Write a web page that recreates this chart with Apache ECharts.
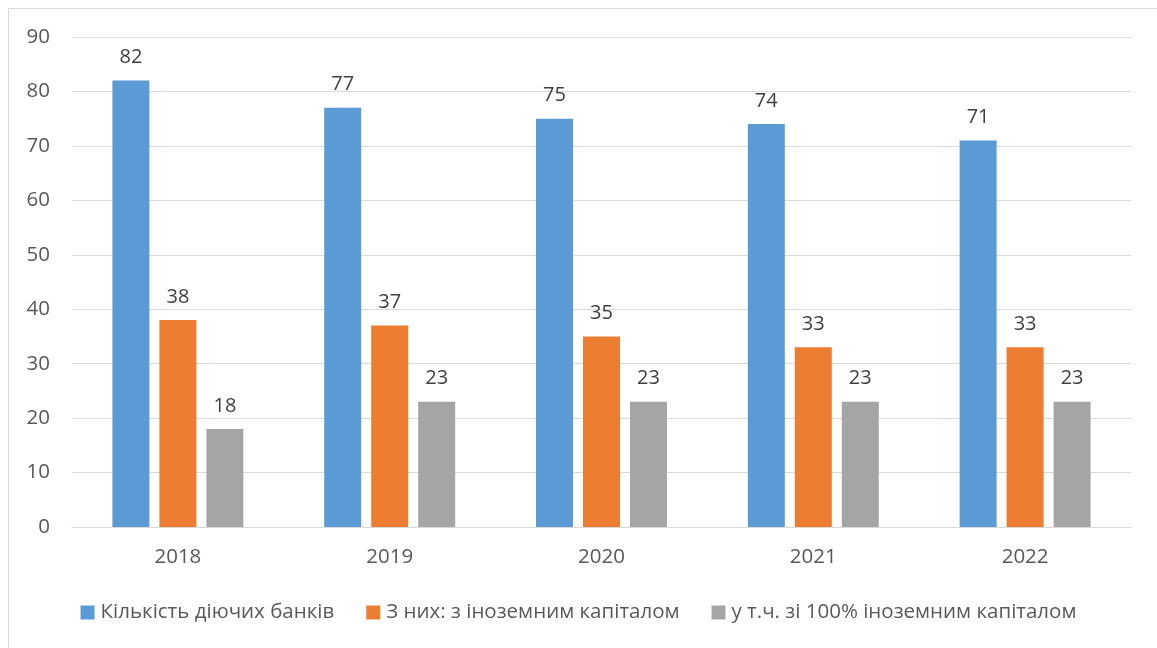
<!DOCTYPE html>
<html><head><meta charset="utf-8">
<script src="https://cdn.jsdelivr.net/npm/echarts@6/dist/echarts.min.js"></script>
<style>html,body{margin:0;padding:0;background:#fff}#c{width:1157px;height:648px}</style>
</head><body><div id="c"></div>
<script>
const categories = ['2018','2019','2020','2021','2022'];
const seriesNames = ['Кількість діючих банків','З них: з іноземним капіталом','у т.ч. зі 100% іноземним капіталом'];
const totalBanks = [82,77,75,74,71];
const foreignBanks = [38,37,35,33,33];
const fullForeignBanks = [18,23,23,23,23];
const colors = ['#5B9BD5','#ED7D31','#A5A5A5'];
const font = 'Open Sans, Noto Sans, sans-serif';
const chart = echarts.init(document.getElementById('c'));
const mk = (name, data, i) => ({
  name, type:'bar', data, barWidth:37, barGap:'27%',
  itemStyle:{color:colors[i]},
  label:{show:true, position:'top', distance:13, color:'#404040', fontSize:20, fontFamily:font}
});
chart.setOption({
  animation:false,
  graphic:[{type:'rect', shape:{x:8.5,y:8.5,width:1200,height:700}, style:{fill:'none', stroke:'#D9D9D9', lineWidth:1}, silent:true}],
  grid:{left:72, right:26, top:37, bottom:121},
  legend:{bottom:20, left:'center', itemWidth:14, itemHeight:14, itemGap:32, icon:'rect',
    textStyle:{color:'#595959', fontSize:20.5, fontFamily:font, padding:[0,0,0,1]}},
  xAxis:{type:'category', data:categories, axisTick:{show:false},
    axisLine:{lineStyle:{color:'#D9D9D9', width:1}},
    axisLabel:{color:'#595959', fontSize:20.5, fontFamily:font, margin:20}},
  yAxis:{type:'value', min:0, max:90, interval:10,
    axisLine:{show:false}, axisTick:{show:false},
    splitLine:{lineStyle:{color:'#D9D9D9', width:1}},
    axisLabel:{color:'#595959', fontSize:20.5, fontFamily:font, margin:22}},
  series:[mk(seriesNames[0], totalBanks, 0), mk(seriesNames[1], foreignBanks, 1), mk(seriesNames[2], fullForeignBanks, 2)]
});
</script></body></html>
